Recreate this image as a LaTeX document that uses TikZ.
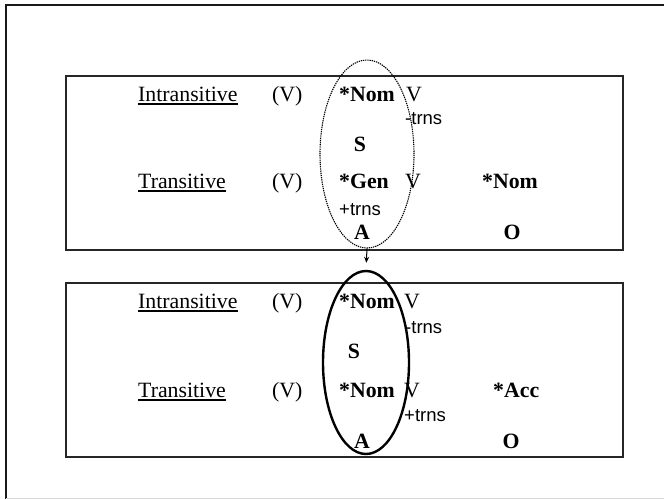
\documentclass[tikz,border=0pt]{standalone}
\usepackage{fontspec}
\setmainfont{Liberation Serif}
\newfontfamily\sansf{Liberation Sans}
\usetikzlibrary{shapes.geometric,arrows.meta}
\begin{document}
\begin{tikzpicture}[x=1pt,y=-1pt,
  lbl/.style={inner sep=0pt,font=\fontsize{21.8}{24}\selectfont},
  bl/.style={inner sep=0pt,font=\fontsize{21.8}{24}\selectfont\bfseries},
  sm/.style={inner sep=0pt,font=\sansf\fontsize{18.5}{20}\selectfont},
  panel/.style={draw=black!85,line width=1.3pt},
  oval/.style={ellipse,draw,inner sep=0pt}]
\useasboundingbox (0,0) rectangle (664,499);
% outer frame
\draw[line width=2pt,black!90] (6,499) -- (6,5) -- (664,5);
\draw[line width=1pt,black!15] (6,498) -- (664,498);
% panels
\draw[panel] (66,76) rectangle (623,250);
\draw[panel] (66,283) rectangle (623,457);
% top panel text
\node[lbl,anchor=base west] (i1) at (138,101) {Intransitive};
\node[lbl,anchor=base west] (v1) at (272,101) {(V)};
\node[bl,anchor=base west] (n1) at (339,101) {*Nom};
\node[lbl,anchor=base west] (vv1) at (406,101) {V};
\node[sm,anchor=base west] (t1) at (405,124) {-trns};
\node[bl,anchor=base] (s1) at (360,151) {S};
\node[lbl,anchor=base west] (tr1) at (138,188) {Transitive};
\node[lbl,anchor=base west] (v2) at (272,188) {(V)};
\node[bl,anchor=base west] (g1) at (339,188) {*Gen};
\node[lbl,anchor=base west] (vv2) at (405,188) {V};
\node[bl,anchor=base west] (o1) at (482,188) {*Nom};
\node[sm,anchor=base west] (t2) at (339,215) {+trns};
\node[bl,anchor=base] (a1) at (362,239) {A};
\node[bl,anchor=base] (oo1) at (512,239) {O};
% bottom panel text
\node[lbl,anchor=base west] (i2) at (138,308) {Intransitive};
\node[lbl,anchor=base west] (v3) at (272,308) {(V)};
\node[bl,anchor=base west] (n2) at (339,308) {*Nom};
\node[lbl,anchor=base west] (vv3) at (404,308) {V};
\node[sm,anchor=base west] (t3) at (405,333) {-trns};
\node[bl,anchor=base] (s2) at (354,358) {S};
\node[lbl,anchor=base west] (tr2) at (138,397) {Transitive};
\node[lbl,anchor=base west] (v4) at (272,397) {(V)};
\node[bl,anchor=base west] (n3) at (339,397) {*Nom};
\node[lbl,anchor=base west] (vv4) at (404,397) {V};
\node[bl,anchor=base west] (ac) at (493,397) {*Acc};
\node[sm,anchor=base west] (t4) at (404,421) {+trns};
\node[bl,anchor=base] (a2) at (362,448) {A};
\node[bl,anchor=base] (oo2) at (511,448) {O};
% underlines
\foreach \n in {i1,tr1,i2,tr2}
  \draw[line width=1.3pt] ([yshift=-3pt]\n.base west) -- ([yshift=-3pt]\n.base east);
% ellipses
\node[oval,dash pattern=on 1.3pt off 0.9pt,line width=1.1pt,minimum width=94pt,minimum height=188pt] (e1) at (367,154) {};
\node[oval,line width=2.4pt,minimum width=86pt,minimum height=183pt] (e2) at (366,362.5) {};
\draw[-{Stealth[length=6pt,width=5pt]},line width=1pt,shorten >=7pt] (e1.south) -- (e2.north);
\end{tikzpicture}
\end{document}
